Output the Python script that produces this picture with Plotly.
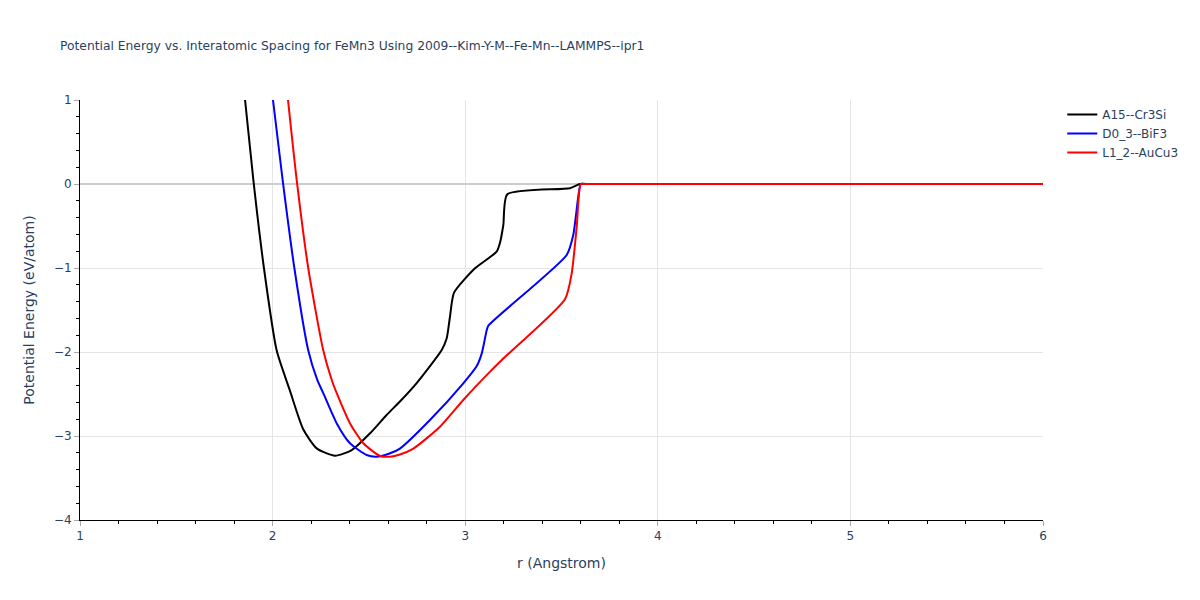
import plotly.graph_objects as go

title = "Potential Energy vs. Interatomic Spacing for FeMn3 Using 2009--Kim-Y-M--Fe-Mn--LAMMPS--ipr1"

a15_r = [1.857, 1.900, 1.955, 2.021, 2.090, 2.159, 2.229, 2.324, 2.411, 2.506, 2.592, 2.661, 2.748,
         2.878, 2.904, 2.921, 2.942, 3.051, 3.163, 3.18, 3.198, 3.219, 3.544, 3.596, 3.65, 4.0, 5.0, 6.0]
a15_e = [1.0, 0.048, -1.0, -1.98, -2.46, -2.92, -3.147, -3.234, -3.167, -2.968, -2.75, -2.59, -2.37,
         -1.976, -1.837, -1.58, -1.294, -1.004, -0.806, -0.706, -0.488, -0.123, -0.05, 0.0, 0.0, 0.0, 0.0, 0.0]

d03_r = [2.002, 2.052, 2.113, 2.185, 2.232, 2.263, 2.333, 2.402, 2.488, 2.54, 2.61, 2.661, 2.817, 2.99,
         3.06, 3.086, 3.112, 3.12, 3.527, 3.561, 3.587, 3.6, 3.62, 3.65, 4.0, 5.0, 6.0]
d03_e = [1.0, 0.048, -1.0, -1.98, -2.333, -2.49, -2.85, -3.087, -3.226, -3.246, -3.206, -3.15, -2.81, -2.373,
         -2.167, -2.016, -1.738, -1.687, -0.845, -0.607, -0.15, 0.0, 0.0, 0.0, 0.0, 0.0, 0.0]

l12_r = [2.08, 2.125, 2.185, 2.263, 2.307, 2.333, 2.402, 2.471, 2.558, 2.61, 2.661, 2.731, 2.869, 2.99,
         3.129, 3.19, 3.518, 3.553, 3.579, 3.6, 3.62, 3.65, 4.0, 5.0, 6.0]
l12_e = [1.0, 0.048, -1.0, -1.98, -2.333, -2.49, -2.85, -3.087, -3.238, -3.246, -3.22, -3.15, -2.889, -2.571,
         -2.234, -2.095, -1.373, -1.063, -0.508, 0.0, 0.0, 0.0, 0.0, 0.0, 0.0]

series = [
    ("A15--Cr3Si", a15_r, a15_e, "black"),
    ("D0_3--BiF3", d03_r, d03_e, "blue"),
    ("L1_2--AuCu3", l12_r, l12_e, "red"),
]

FONT = "DejaVu Sans, Verdana, sans-serif"

fig = go.Figure()
for name, r, e, c in series:
    fig.add_trace(go.Scatter(x=r, y=e, mode="lines", name=name,
                             line=dict(color=c, width=2, shape="spline", smoothing=0.6)))

axis_common = dict(
    showline=True, linecolor="black", linewidth=1,
    showgrid=True, gridcolor="#e5e5e5",
    ticks="outside", tickcolor="#aaaaaa", ticklen=5,
    minor=dict(ticks="outside", ticklen=3, tickcolor="black", showgrid=False),
    tickfont=dict(size=12, color="#2a3f5f"),
)

fig.update_layout(
    width=1200, height=600,
    template="plotly_white",
    font=dict(family=FONT, color="#2a3f5f"),
    title=dict(text=title, x=0.05, font=dict(size=12.3, color="#2a3f5f")),
    margin=dict(l=80, r=157, t=100, b=80),
    legend=dict(x=1.02, y=1, font=dict(size=12, color="#2a3f5f")),
    plot_bgcolor="white",
)
fig.update_xaxes(range=[1, 6], dtick=1, title=dict(text="r (Angstrom)", font=dict(size=14, color="#2a3f5f")),
                 zeroline=False, **axis_common)
fig.update_xaxes(minor_dtick=0.2)
fig.update_yaxes(range=[-4, 1], dtick=1, title=dict(text="Potential Energy (eV/atom)", font=dict(size=14, color="#2a3f5f")),
                 zeroline=True, zerolinecolor="#cccccc", zerolinewidth=2, **axis_common)
fig.update_yaxes(minor_dtick=0.2)

fig.write_html("out.html", config={"displayModeBar": False},
               post_script="document.body.style.margin='0';")
